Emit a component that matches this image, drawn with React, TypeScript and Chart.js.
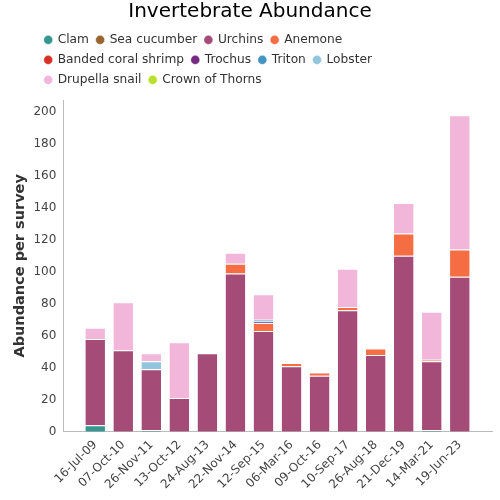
import React, { useEffect, useRef } from "react";
import { Chart, registerables } from "chart.js";

Chart.register(...registerables);

const surveyDates = [
  "16-Jul-09", "07-Oct-10", "26-Nov-11", "13-Oct-12", "24-Aug-13", "22-Nov-14", "12-Sep-15",
  "06-Mar-16", "09-Oct-16", "10-Sep-17", "26-Aug-18", "21-Dec-19", "14-Mar-21", "19-Jun-23",
];

const clam = [4, 0, 1, 0, 0, 0, 0, 0, 0, 0, 0, 0, 1, 0];
const seaCucumber = [0, 0, 0, 0, 0, 0, 0, 0, 0, 0, 0, 0, 0, 0];
const urchins = [54, 51, 38, 21, 49, 99, 63, 41, 35, 76, 48, 110, 43, 97];
const anemone = [0, 0, 0, 0, 0, 6, 5, 2, 2, 2, 4, 14, 1, 17];
const bandedCoralShrimp = [0, 0, 0, 0, 0, 0, 0, 0, 0, 0, 0, 0, 0, 0];
const trochus = [0, 0, 0, 0, 0, 0, 1, 0, 0, 0, 0, 0, 0, 0];
const triton = [0, 0, 0, 0, 0, 0, 1, 0, 0, 0, 0, 0, 0, 0];
const lobster = [0, 0, 5, 0, 0, 0, 0, 0, 0, 0, 0, 0, 0, 0];
const drupellaSnail = [7, 30, 5, 35, 0, 7, 16, 0, 0, 24, 0, 19, 30, 84];
const crownOfThorns = [0, 0, 0, 0, 0, 0, 0, 0, 0, 0, 0, 0, 0, 0];

const yTicks = [0, 20, 40, 60, 80, 100, 120, 140, 160, 180, 200];

const series = [
  { label: "Clam", data: clam, color: "#35978f" },
  { label: "Sea cucumber", data: seaCucumber, color: "#99652f" },
  { label: "Urchins", data: urchins, color: "#a54b77" },
  { label: "Anemone", data: anemone, color: "#f46d43" },
  { label: "Banded coral shrimp", data: bandedCoralShrimp, color: "#d73027" },
  { label: "Trochus", data: trochus, color: "#762a83" },
  { label: "Triton", data: triton, color: "#4393c3" },
  { label: "Lobster", data: lobster, color: "#92c5de" },
  { label: "Drupella snail", data: drupellaSnail, color: "#f1b6da" },
  { label: "Crown of Thorns", data: crownOfThorns, color: "#b8e12c" },
];

const FONT = "'DejaVu Sans', sans-serif";

// Legend rows are left-indented and wrap narrower than the full width.
const legendShift = {
  id: "legendShift",
  beforeLayout(chart: any) {
    const l = chart.legend;
    if (l && !l._patched) {
      const orig = l.fit;
      l.fit = function () {
        const mw = this.maxWidth;
        this.maxWidth = 420;
        orig.call(this);
        this.maxWidth = mw;
        this.width = mw;
        this.height += 4;
      };
      l._patched = true;
    }
  },
  afterLayout(chart: any) {
    const l = chart.legend;
    if (l) {
      l.left += 29;
      l.right = l.left + 430;
    }
  },
};

export default function App() {
  const ref = useRef<HTMLCanvasElement | null>(null);

  useEffect(() => {
    document.body.style.margin = "0";
    if (!ref.current) return;
    const chart = new Chart(ref.current, {
      type: "bar",
      data: {
        labels: surveyDates.map((_, i) => i),
        datasets: series.map((s) => ({
          label: s.label,
          data: s.data,
          backgroundColor: s.color,
          borderColor: "rgba(255,255,255,0.45)",
          borderWidth: 1,
          categoryPercentage: 0.76,
          barPercentage: 1,
        })),
      },
      options: {
        responsive: false,
        animation: false,
        devicePixelRatio: 1,
        layout: { padding: { left: 8, right: 8, top: 0, bottom: 2 } },
        plugins: {
          title: {
            display: true,
            text: "Invertebrate Abundance",
            color: "#000",
            font: { family: FONT, size: 20, weight: "normal" },
            padding: { top: 0, bottom: 2 },
          },
          legend: {
            position: "top",
            align: "start",
            labels: {
              usePointStyle: true,
              pointStyle: "circle",
              boxWidth: 6.8,
              boxHeight: 6.4,
              padding: 7.8,
              color: "#333",
              font: { family: FONT, size: 12.2 },
            },
          },
          tooltip: { enabled: false },
        },
        scales: {
          x: {
            type: "linear",
            stacked: true,
            offset: false,
            bounds: "data",
            min: -1.14,
            max: 14.15,
            grid: { display: false, drawTicks: false, tickLength: 0 },
            border: { display: true, color: "#bbb", width: 1 },
            afterBuildTicks: (scale: any) => {
              scale.ticks = surveyDates.map((_, i) => ({ value: i }));
            },
            ticks: {
              autoSkip: false,
              maxRotation: 45,
              minRotation: 45,
              padding: 6,
              color: "#444",
              font: { family: FONT, size: 12 },
              callback: (v: any) => surveyDates[Math.round(v)] ?? "",
            },
          },
          y: {
            stacked: true,
            min: 0,
            max: 207.5,
            grid: { display: false, drawTicks: false, tickLength: 0 },
            border: { display: true, color: "#bbb", width: 1 },
            afterBuildTicks: (scale: any) => {
              scale.ticks = yTicks.map((v) => ({ value: v }));
            },
            ticks: {
              padding: 7,
              color: "#444",
              font: { family: FONT, size: 12 },
            },
            title: {
              display: true,
              text: "Abundance per survey",
              color: "#333",
              font: { family: FONT, size: 14.5, weight: "bold" },
              padding: { top: 4, bottom: -3 },
            },
          },
        },
      },
      plugins: [legendShift],
    } as any);
    return () => chart.destroy();
  }, []);

  return (
    <div style={{ width: 500, height: 500 }}>
      <canvas ref={ref} width={500} height={500} style={{ display: "block" }} />
    </div>
  );
}
